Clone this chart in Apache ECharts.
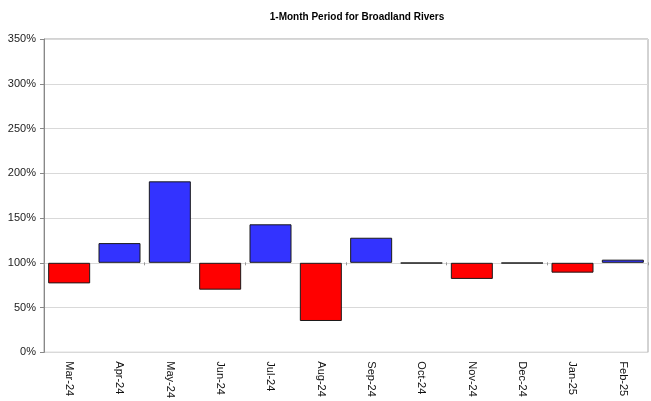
<!DOCTYPE html>
<html>
<head>
<meta charset="utf-8">
<script src="https://cdn.jsdelivr.net/npm/echarts@6/dist/echarts.min.js"></script>
<style>
  html, body { margin: 0; padding: 0; background: #fff; }
  #chart { width: 651px; height: 401px; }
</style>
</head>
<body>
<div id="chart"></div>
<script>
// Monthly flow as a percentage of the long-term average
const months = ['Mar-24', 'Apr-24', 'May-24', 'Jun-24', 'Jul-24', 'Aug-24',
                'Sep-24', 'Oct-24', 'Nov-24', 'Dec-24', 'Jan-25', 'Feb-25'];
const percentOfAverage = [77, 122, 191, 70, 143, 35, 128, 99.5, 82, 99.5, 89, 103.5];
const baselineValue = 100;
const yTicks = [0, 50, 100, 150, 200, 250, 300, 350];

// Bars hang from the 100% line: an invisible base plus a visible span
const baseParts = percentOfAverage.map(v => Math.min(v, baselineValue));
const spanParts = percentOfAverage.map(v => ({
  value: Math.abs(v - baselineValue),
  itemStyle: { color: v >= baselineValue ? '#3333ff' : '#ff0000' }
}));

const chart = echarts.init(document.getElementById('chart'), null, { renderer: 'canvas' });
chart.setOption({
  animation: false,
  backgroundColor: '#ffffff',
  title: {
    text: '1-Month Period for Broadland Rivers',
    left: 352, top: 7, textAlign: 'center',
    textStyle: { fontFamily: 'Liberation Sans, Arial, sans-serif', fontSize: 10, fontWeight: 'bold', color: '#000' }
  },
  grid: {
    left: 44, right: 3, top: 39, bottom: 45,
    show: true, borderColor: '#a6a6a6', borderWidth: 1
  },
  xAxis: [{
    type: 'category',
    data: months,
    position: 'bottom',
    axisLine: { show: false },
    axisTick: { show: false },
    axisLabel: {
      rotate: -90, margin: 9,
      fontFamily: 'Liberation Sans, Arial, sans-serif', fontSize: 11, color: '#111'
    }
  }, {
    // tick marks along the 100% crossing line
    type: 'category',
    data: months,
    position: 'bottom',
    offset: -90,
    axisLine: { show: false },
    axisTick: { show: true, length: 3, lineStyle: { color: '#999' } },
    axisLabel: { show: false }
  }],
  yAxis: {
    type: 'value',
    min: yTicks[0], max: yTicks[yTicks.length - 1], interval: 50,
    axisLine: { show: true, lineStyle: { color: '#888' } },
    axisTick: { show: true, length: 4, lineStyle: { color: '#888' } },
    axisLabel: {
      formatter: '{value}%', margin: 8,
      fontFamily: 'Liberation Sans, Arial, sans-serif', fontSize: 11, color: '#222'
    },
    splitLine: { show: true, lineStyle: { color: '#d9d9d9' } }
  },
  series: [{
    type: 'bar',
    stack: 'flow',
    data: baseParts,
    barWidth: 42,
    itemStyle: { color: 'transparent' },
    silent: true
  }, {
    type: 'bar',
    stack: 'flow',
    data: spanParts,
    barWidth: 42,
    itemStyle: { borderColor: '#1a1a1a', borderWidth: 1 }
  }]
});
</script>
</body>
</html>
